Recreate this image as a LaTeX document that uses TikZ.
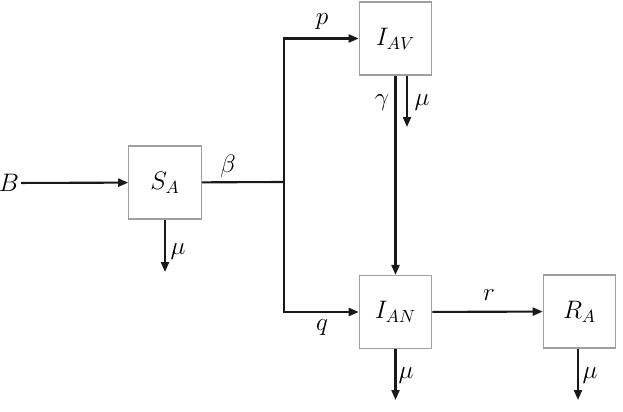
\documentclass[tikz,border=0pt]{standalone}
\usepackage{amsmath,amssymb}
\usepackage{tikz}
\usetikzlibrary{arrows.meta,positioning,calc}

\begin{document}
\begin{tikzpicture}[x=0.02cm,y=-0.02cm,font=\Large,
  box/.style={draw=gray!75,line width=0.6pt,minimum width=1.45cm,minimum height=1.46cm,inner sep=0pt},
  flow/.style={line width=1.2pt,black!90,-{Triangle[length=2mm,width=1.6mm]}},
  link/.style={line width=1.2pt,black!90}]
\useasboundingbox (0,0) rectangle (623,412);
% --- compartments ---
\node[box] (SA)  at (165,182.5) {$S_A$};
\node[box] (IAV) at (395.5,38.5) {$I_{AV}$};
\node[box] (IAN) at (395.5,312) {$I_{AN}$};
\node[box] (RA)  at (579.5,311.5) {$R_A$};
% --- inflow and branch point ---
\node[inner sep=1pt] (B) at (9,183) {$B$};
\coordinate (junc) at (284,182);
\coordinate (SAmu) at (165,272);
\coordinate (IAVmu) at (407,127);
\coordinate (IANmu) at (395.5,400);
\coordinate (RAmu) at (578,400);
% --- flows ---
\draw[flow] (B) -- (SA);
\draw[link] (SA) -- (junc);
\draw[flow] (junc) |- (IAV);
\draw[flow] (junc) |- (IAN);
\draw[flow] (IAV) -- (IAN);
\draw[flow] (IAN) -- (RA);
% --- deaths ---
\draw[flow] (SA) -- (SAmu);
\draw[flow] (IAV.south -| IAVmu) -- (IAVmu);
\draw[flow] (IAN) -- (IANmu);
\draw[flow] (RA.south -| RAmu) -- (RAmu);
% --- rates ---
\node (beta) at (228,166) {$\beta$};
\node (p) at (322,22) {$p$};
\node (q) at (322,328) {$q$};
\node (gamma) at (382,103) {$\gamma$};
\node (muIAV) at (422,103) {$\mu$};
\node (muSA) at (178,252) {$\mu$};
\node (muIAN) at (406,376) {$\mu$};
\node (muRA) at (590,376) {$\mu$};
\node (r) at (489,295) {$r$};
\end{tikzpicture}
\end{document}
